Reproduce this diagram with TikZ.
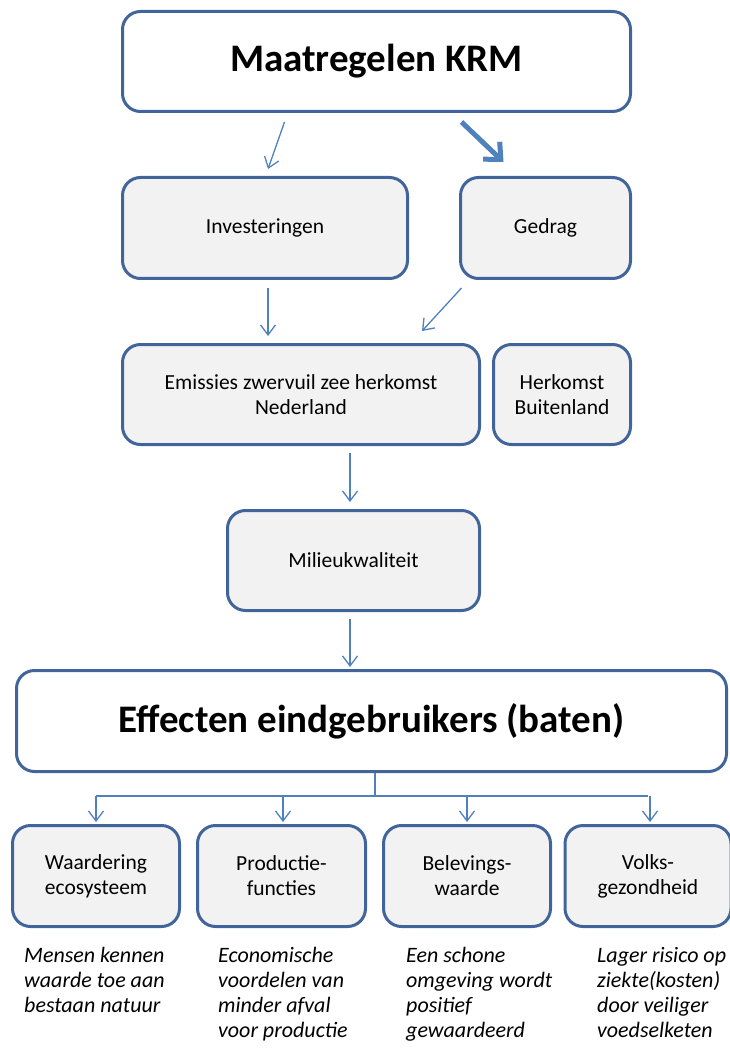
\documentclass[tikz,border=0pt]{standalone}
\usepackage{fontspec}
\setmainfont{Carlito}
\usetikzlibrary{arrows.meta,calc}
\definecolor{boxline}{HTML}{41659A}
\definecolor{boxfill}{HTML}{F2F2F2}
\definecolor{arrowblue}{HTML}{4F81BD}
\tikzset{
  box/.style={draw=boxline, line width=3pt, rounded corners=18pt, fill=boxfill,
    align=center, inner sep=2pt, font=\fontsize{21.5}{25}\selectfont},
  bigbox/.style={box, fill=white, font=\fontsize{39}{44}\selectfont\bfseries},
  arr/.style={draw=arrowblue, line width=1.3pt, -{Straight Barb[length=10pt,width=15pt]}},
  thickarr/.style={draw=arrowblue, line width=5pt, -{Straight Barb[length=13pt,width=24pt,line width=5pt]}},
  plainline/.style={draw=arrowblue, line width=1.3pt},
  note/.style={anchor=north west, align=left, inner sep=0pt,
    font=\fontsize{22}{25}\selectfont\itshape}
}
\begin{document}
\begin{tikzpicture}[x=1pt,y=-1pt]
\useasboundingbox (0,0) rectangle (729,1048);
% main chain
\node[bigbox, minimum width=508pt, minimum height=100pt] (krm) at (376.5,61.5) {\raisebox{-2pt}{Maatregelen KRM}};
\node[box, minimum width=285pt, minimum height=101pt] (inv) at (265,228) {Investeringen};
\node[box, minimum width=170pt, minimum height=101pt] (ged) at (545.5,228) {Gedrag};
\node[box, minimum width=357pt, minimum height=100pt] (emi) at (301,394.5) {Emissies zwervuil zee herkomst\\Nederland};
\node[box, minimum width=137pt, minimum height=100pt] (buit) at (562,394.5) {Herkomst\\Buitenland};
\node[box, minimum width=252pt, minimum height=100pt] (mil) at (353.5,560.5) {Milieukwaliteit};
\node[bigbox, minimum width=710pt, minimum height=101pt] (eff) at (371.5,721) {\raisebox{-2pt}{Effecten eindgebruikers (baten)}};
% end-user effects
\node[box, minimum width=167pt, minimum height=101pt] (waa) at (96,876) {Waardering\\ecosysteem};
\node[box, minimum width=168pt, minimum height=101pt] (pro) at (281.5,876) {Productie-\\functies};
\node[box, minimum width=167pt, minimum height=101pt] (bel) at (467,876) {Belevings-\\waarde};
\node[box, minimum width=166pt, minimum height=101pt] (vol) at (648,876) {Volks-\\gezondheid};
% arrows
\draw[arr] ($(krm.south)+(-92,9)$) -- ($(inv.north)+(3,-7)$);
\draw[thickarr] ($(krm.south)+(85,9)$) -- ($(ged.north)+(-42,-14)$);
\draw[arr] ($(inv.south)+(3,8)$) -- ($(emi.north)+(-33,-7)$);
\draw[arr] ($(ged.south)+(-84,8)$) -- ($(emi.north)+(121,-12)$);
\draw[arr] ($(emi.south)+(49,7)$) -- ($(mil.north)+(-3.5,-7)$);
\draw[arr] ($(mil.south)+(-3.5,7)$) -- ($(eff.north)+(-21.5,-2)$);
% fan-out to the four effects
\coordinate (split) at ($(eff.south)+(3.5,23)$);
\draw[plainline] ($(eff.south)+(3.5,0)$) -- (split);
\draw[plainline] (split -| waa) -- (split -| vol);
\draw[arr] (split -| waa) -- ($(waa.north)+(0,-2)$);
\draw[arr] (split -| 283,0) -- ($(pro.north)+(1.5,-2)$);
\draw[arr] (split -| bel) -- ($(bel.north)+(0,-2)$);
\draw[arr] (split -| 650,0) -- ($(vol.north)+(2,-2)$);
% descriptions
\node[note] (n1) at (24,947) {Mensen kennen\\waarde toe aan\\bestaan natuur};
\node[note] (n2) at (218,947) {Economische\\voordelen van\\minder afval\\voor productie};
\node[note] (n3) at (406,947) {Een schone\\omgeving wordt\\positief\\gewaardeerd};
\node[note] (n4) at (597,947) {Lager risico op\\ziekte(kosten)\\door veiliger\\voedselketen};
\end{tikzpicture}
\end{document}
